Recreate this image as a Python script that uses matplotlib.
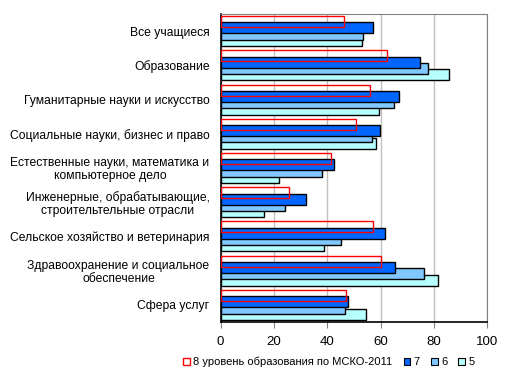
import matplotlib
matplotlib.use("Agg")
import matplotlib.pyplot as plt
from matplotlib.patches import Patch
import numpy as np

plt.rcParams['font.family'] = ['Liberation Sans', 'DejaVu Sans']

categories = [
    "Все учащиеся",
    "Образование",
    "Гуманитарные науки и искусство",
    "Социальные науки, бизнес и право",
    "Естественные науки, математика и\nкомпьютерное дело",
    "Инженерные, обрабатывающие,\nстроительтельные отрасли",
    "Сельское хозяйство и ветеринария",
    "Здравоохранение и социальное\nобеспечение",
    "Сфера услуг",
]
series_names = ["8 уровень образования по МСКО-2011", "7", "6", "5"]
level8 = [46.4, 62.5, 56.1, 50.9, 41.2, 25.8, 57.3, 60.3, 47.1]
level7 = [57.2, 74.9, 67.0, 59.6, 42.6, 32.1, 61.8, 65.5, 47.9]
level6 = [53.5, 77.9, 65.1, 56.6, 38.1, 24.3, 45.3, 76.4, 46.8]
level5 = [52.9, 85.5, 59.3, 58.4, 22.0, 16.4, 38.9, 81.6, 54.6]
xticks = [0, 20, 40, 60, 80, 100]

fig = plt.figure(figsize=(5.1, 3.86), dpi=100)
ax = fig.add_axes([0.4327, 0.1658, 0.5228, 0.798])

y = np.arange(len(categories))
h = 0.32
step = 0.185
c_blue = "#0066FF"
c_light = "#80C8FF"
c_cyan = "#B5FFFF"

ax.barh(y + 1.5 * step, level5, height=h, color=c_cyan, edgecolor="black", linewidth=1.0, zorder=2)
ax.barh(y + 0.5 * step, level6, height=h, color=c_light, edgecolor="black", linewidth=1.0, zorder=3)
ax.barh(y - 0.5 * step, level7, height=h, color=c_blue, edgecolor="black", linewidth=1.0, zorder=4)
ax.barh(y - 1.5 * step, level8, height=h, facecolor="none", edgecolor="red", linewidth=1.0, zorder=5)

ax.set_xlim(0, 100)
ax.set_ylim(len(categories) - 0.5, -0.5)
ax.set_xticks(xticks)
ax.set_xticklabels([str(t) for t in xticks], fontsize=9.5)
ax.set_yticks(y)
ax.set_yticklabels(categories, fontsize=8.7, linespacing=1.05)
for lbl in ax.get_yticklabels():
    lbl.set_multialignment('center')
ax.tick_params(axis='y', length=0, pad=8)
ax.tick_params(axis='x', length=4, width=0.8, direction='out', color='#808080', pad=6)
ax.xaxis.grid(True, color="#C0C0C0", linewidth=1.0, zorder=0)
ax.set_axisbelow(True)
for side in ['top', 'right']:
    ax.spines[side].set_color('#808080')
for side in ['left', 'bottom']:
    ax.spines[side].set_color('black')
    ax.spines[side].set_linewidth(1.2)

handles = [
    Patch(facecolor="white", edgecolor="red", linewidth=1.0),
    Patch(facecolor=c_blue, edgecolor="black", linewidth=0.8),
    Patch(facecolor=c_light, edgecolor="black", linewidth=0.8),
    Patch(facecolor=c_cyan, edgecolor="black", linewidth=0.8),
]
fig.legend(handles, series_names, loc='center', bbox_to_anchor=(0.645, 0.062), ncol=4,
           frameon=False, fontsize=8.0, handlelength=0.6, handleheight=0.6,
           handletextpad=0.3, columnspacing=1.0, borderaxespad=0)

fig.savefig("out.png", dpi=100)
